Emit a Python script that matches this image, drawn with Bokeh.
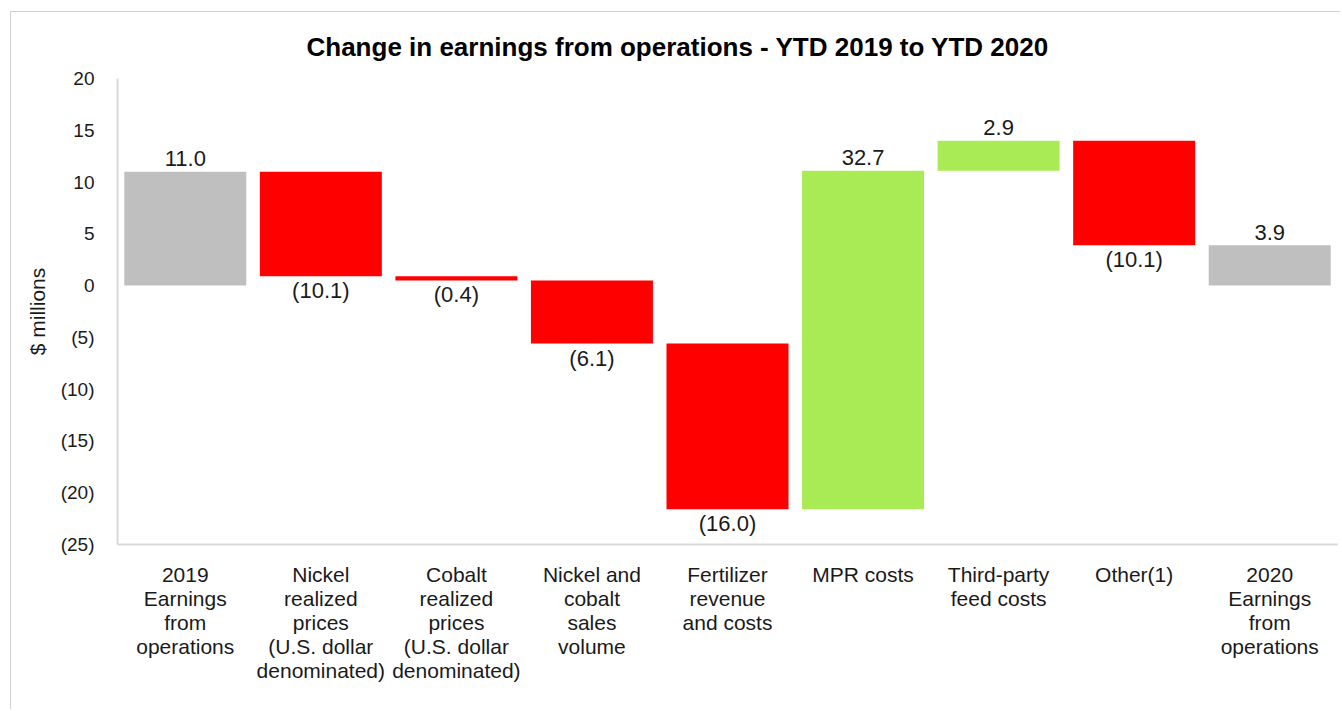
from bokeh.plotting import figure
from bokeh.models import ColumnDataSource, FixedTicker, Range1d, FactorRange
from bokeh.embed import file_html
from bokeh.resources import INLINE
from bokeh.core.properties import value

# ---- data ----
categories = [
    "2019\nEarnings\nfrom\noperations",
    "Nickel\nrealized\nprices\n(U.S. dollar\ndenominated)",
    "Cobalt\nrealized\nprices\n(U.S. dollar\ndenominated)",
    "Nickel and\ncobalt\nsales\nvolume",
    "Fertilizer\nrevenue\nand costs",
    "MPR costs",
    "Third-party\nfeed costs",
    "Other(1)",
    "2020\nEarnings\nfrom\noperations",
]
values = [11.0, -10.1, -0.4, -6.1, -16.0, 32.7, 2.9, -10.1, 3.9]
kinds = ["total", "delta", "delta", "delta", "delta", "delta", "delta", "delta", "total"]
y_ticks = [-25, -20, -15, -10, -5, 0, 5, 10, 15, 20]
y_tick_labels = ["(25)", "(20)", "(15)", "(10)", "(5)", "0", "5", "10", "15", "20"]

GRAY = "#BFBFBF"
RED = "#FF0000"
GREEN = "#A9EB55"

# waterfall geometry from the values
bottoms, tops, colors, texts = [], [], [], []
running = 0.0
for v, k in zip(values, kinds):
    if k == "total":
        b, t = 0.0, v
        running = v
        colors.append(GRAY)
    else:
        b, t = running, running + v
        running = running + v
        colors.append(GREEN if v > 0 else RED)
    bottoms.append(min(b, t))
    tops.append(max(b, t))
    texts.append(f"{v:.1f}" if v >= 0 else f"({abs(v):.1f})")

src = ColumnDataSource(dict(cat=categories, bottom=bottoms, top=tops, color=colors))

pos_idx = [i for i, v in enumerate(values) if v >= 0]
neg_idx = [i for i, v in enumerate(values) if v < 0]
pos_src = ColumnDataSource(dict(cat=[categories[i] for i in pos_idx],
                                y=[tops[i] for i in pos_idx],
                                text=[texts[i] for i in pos_idx]))
neg_src = ColumnDataSource(dict(cat=[categories[i] for i in neg_idx],
                                y=[bottoms[i] for i in neg_idx],
                                text=[texts[i] for i in neg_idx]))

FONT = "Liberation Sans"

p = figure(
    x_range=FactorRange(*categories, range_padding=0),
    y_range=Range1d(-25, 20),
    width=1330, height=698,
    output_backend="svg", toolbar_location=None,
    min_border_left=106, min_border_right=4, min_border_top=66, min_border_bottom=166,
    title="Change in earnings from operations - YTD 2019 to YTD 2020",
)
p.styles = {"margin-left": "10px", "margin-top": "11px",
            "border-left": "1px solid #D0D0D0", "border-top": "1px solid #D0D0D0"}
p.x_range.factor_padding = 0
p.x_range.group_padding = 0

p.vbar(x="cat", bottom="bottom", top="top", width=0.9, fill_color="color",
       line_color=None, source=src)

p.text(x="cat", y="y", text="text", source=pos_src, text_align="center",
       text_baseline="alphabetic", y_offset=-13, text_font=value(FONT),
       text_font_size="22px", text_color="#1a1a1a")
p.text(x="cat", y="y", text="text", source=neg_src, text_align="center",
       text_baseline="top", y_offset=2, text_font=value(FONT),
       text_font_size="22px", text_color="#1a1a1a")

p.title.text_font = FONT
p.title.text_font_size = "26px"
p.title.text_font_style = "bold"
p.title.align = "left"
p.title.offset = 189
p.title.text_color = "#000000"
p.title.standoff = 33

p.xgrid.grid_line_color = None
p.ygrid.grid_line_color = None
p.outline_line_color = None

p.yaxis.ticker = FixedTicker(ticks=y_ticks)
p.yaxis.major_label_overrides = {t: l for t, l in zip(y_ticks, y_tick_labels)}
p.yaxis.axis_label = "$ millions"
p.yaxis.axis_label_text_font = FONT
p.yaxis.axis_label_text_font_size = "21px"
p.yaxis.axis_label_text_font_style = "normal"
p.yaxis.axis_label_text_color = "#1a1a1a"
p.yaxis.axis_label_standoff = 9

for ax in (p.xaxis, p.yaxis):
    ax.axis_line_color = "#D9D9D9"
    ax.axis_line_width = 2
    ax.major_tick_line_color = None
    ax.minor_tick_line_color = None
    ax.major_label_text_font = FONT
    ax.major_label_text_color = "#1a1a1a"

p.yaxis.major_label_text_font_size = "19px"
p.yaxis.major_label_standoff = 17
p.xaxis.major_label_text_font_size = "21px"
p.xaxis.major_label_text_line_height = 1.05
p.xaxis.major_label_standoff = 12

open("out.html", "w").write(file_html(p, INLINE))
